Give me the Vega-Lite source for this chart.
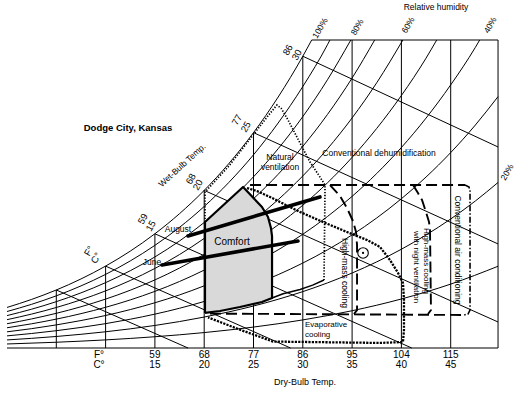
{
  "$schema": "https://vega.github.io/schema/vega-lite/v6.json",
  "width": 520,
  "height": 394,
  "autosize": {"type": "none"},
  "padding": 0,
  "background": "white",
  "config": {"view": {"stroke": null}, "text": {"font": "Liberation Sans", "color": "black"}},
  "encoding": {
    "x": {"field": "x", "type": "quantitative", "scale": {"domain": [-0.71, 52.028], "nice": false, "zero": false}, "axis": null},
    "y": {"field": "y", "type": "quantitative", "scale": {"domain": [-4.279, 32.372], "nice": false, "zero": false}, "axis": null}
  },
  "layer": [
    {
      "data": {"values": [
        {"g": "border", "o": 0, "x": 0, "y": 0}, {"g": "border", "o": 1, "x": 49.8, "y": 0}, {"g": "border", "o": 2, "x": 49.8, "y": 28.65}, {"g": "border", "o": 3, "x": 30.9, "y": 28.65},
        {"g": "v5", "o": 0, "x": 5, "y": 0}, {"g": "v5", "o": 1, "x": 5, "y": 5.397},
        {"g": "v10", "o": 0, "x": 10, "y": 0}, {"g": "v10", "o": 1, "x": 10, "y": 7.618},
        {"g": "v15", "o": 0, "x": 15, "y": 0}, {"g": "v15", "o": 1, "x": 15, "y": 10.627},
        {"g": "v20", "o": 0, "x": 20, "y": 0}, {"g": "v20", "o": 1, "x": 20, "y": 14.662},
        {"g": "v25", "o": 0, "x": 25, "y": 0}, {"g": "v25", "o": 1, "x": 25, "y": 20.034},
        {"g": "v30", "o": 0, "x": 30, "y": 0}, {"g": "v30", "o": 1, "x": 30, "y": 27.141},
        {"g": "v35", "o": 0, "x": 35, "y": 0}, {"g": "v35", "o": 1, "x": 35, "y": 28.65},
        {"g": "v40", "o": 0, "x": 40, "y": 0}, {"g": "v40", "o": 1, "x": 40, "y": 28.65},
        {"g": "v45", "o": 0, "x": 45, "y": 0}, {"g": "v45", "o": 1, "x": 45, "y": 28.65},
        {"g": "w5", "o": 0, "x": 5, "y": 5.397}, {"g": "w5", "o": 1, "x": 18.36, "y": 0},
        {"g": "w10", "o": 0, "x": 10, "y": 7.618}, {"g": "w10", "o": 1, "x": 28.76, "y": 0},
        {"g": "w15", "o": 0, "x": 15, "y": 10.627}, {"g": "w15", "o": 1, "x": 41.05, "y": 0},
        {"g": "w20", "o": 0, "x": 20, "y": 14.662}, {"g": "w20", "o": 1, "x": 49.8, "y": 2.42},
        {"g": "w25", "o": 0, "x": 25, "y": 20.034}, {"g": "w25", "o": 1, "x": 49.8, "y": 9.68},
        {"g": "w30", "o": 0, "x": 30, "y": 27.141}, {"g": "w30", "o": 1, "x": 49.8, "y": 18.7}
      ]},
      "mark": {"type": "line", "color": "#000", "strokeWidth": 1},
      "encoding": {"detail": {"field": "g"}, "order": {"field": "o", "type": "quantitative"}}
    },
    {
      "data": {"values": [
        {"rh": 100, "x": 0, "y": 3.773}, {"rh": 100, "x": 2.5, "y": 4.52}, {"rh": 100, "x": 5, "y": 5.397}, {"rh": 100, "x": 7.5, "y": 6.422}, {"rh": 100, "x": 10, "y": 7.618}, {"rh": 100, "x": 12.5, "y": 9.011}, {"rh": 100, "x": 15, "y": 10.627}, {"rh": 100, "x": 17.5, "y": 12.498}, {"rh": 100, "x": 20, "y": 14.662}, {"rh": 100, "x": 22.5, "y": 17.158}, {"rh": 100, "x": 25, "y": 20.034}, {"rh": 100, "x": 27.5, "y": 23.343}, {"rh": 100, "x": 30, "y": 27.141}, {"rh": 100, "x": 30.9, "y": 28.65},
        {"rh": 90, "x": 0, "y": 3.393}, {"rh": 90, "x": 2.5, "y": 4.065}, {"rh": 90, "x": 5, "y": 4.853}, {"rh": 90, "x": 7.5, "y": 5.774}, {"rh": 90, "x": 10, "y": 6.848}, {"rh": 90, "x": 12.5, "y": 8.098}, {"rh": 90, "x": 15, "y": 9.548}, {"rh": 90, "x": 17.5, "y": 11.226}, {"rh": 90, "x": 20, "y": 13.165}, {"rh": 90, "x": 22.5, "y": 15.4}, {"rh": 90, "x": 25, "y": 17.972}, {"rh": 90, "x": 27.5, "y": 20.93}, {"rh": 90, "x": 30, "y": 24.321}, {"rh": 90, "x": 32.5, "y": 28.209}, {"rh": 90, "x": 32.75, "y": 28.65},
        {"rh": 80, "x": 0, "y": 3.015}, {"rh": 80, "x": 2.5, "y": 3.611}, {"rh": 80, "x": 5, "y": 4.31}, {"rh": 80, "x": 7.5, "y": 5.127}, {"rh": 80, "x": 10, "y": 6.08}, {"rh": 80, "x": 12.5, "y": 7.188}, {"rh": 80, "x": 15, "y": 8.472}, {"rh": 80, "x": 17.5, "y": 9.958}, {"rh": 80, "x": 20, "y": 11.675}, {"rh": 80, "x": 22.5, "y": 13.651}, {"rh": 80, "x": 25, "y": 15.925}, {"rh": 80, "x": 27.5, "y": 18.536}, {"rh": 80, "x": 30, "y": 21.525}, {"rh": 80, "x": 32.5, "y": 24.948}, {"rh": 80, "x": 34.87, "y": 28.65},
        {"rh": 70, "x": 0, "y": 2.636}, {"rh": 70, "x": 2.5, "y": 3.157}, {"rh": 70, "x": 5, "y": 3.768}, {"rh": 70, "x": 7.5, "y": 4.482}, {"rh": 70, "x": 10, "y": 5.313}, {"rh": 70, "x": 12.5, "y": 6.28}, {"rh": 70, "x": 15, "y": 7.401}, {"rh": 70, "x": 17.5, "y": 8.696}, {"rh": 70, "x": 20, "y": 10.192}, {"rh": 70, "x": 22.5, "y": 11.912}, {"rh": 70, "x": 25, "y": 13.889}, {"rh": 70, "x": 27.5, "y": 16.159}, {"rh": 70, "x": 30, "y": 18.754}, {"rh": 70, "x": 32.5, "y": 21.721}, {"rh": 70, "x": 35, "y": 25.113}, {"rh": 70, "x": 37.29, "y": 28.65},
        {"rh": 60, "x": 0, "y": 2.258}, {"rh": 60, "x": 2.5, "y": 2.704}, {"rh": 60, "x": 5, "y": 3.227}, {"rh": 60, "x": 7.5, "y": 3.837}, {"rh": 60, "x": 10, "y": 4.549}, {"rh": 60, "x": 12.5, "y": 5.375}, {"rh": 60, "x": 15, "y": 6.333}, {"rh": 60, "x": 17.5, "y": 7.439}, {"rh": 60, "x": 20, "y": 8.715}, {"rh": 60, "x": 22.5, "y": 10.182}, {"rh": 60, "x": 25, "y": 11.867}, {"rh": 60, "x": 27.5, "y": 13.799}, {"rh": 60, "x": 30, "y": 16.006}, {"rh": 60, "x": 32.5, "y": 18.525}, {"rh": 60, "x": 35, "y": 21.401}, {"rh": 60, "x": 37.5, "y": 24.677}, {"rh": 60, "x": 40.15, "y": 28.65},
        {"rh": 50, "x": 0, "y": 1.881}, {"rh": 50, "x": 2.5, "y": 2.252}, {"rh": 50, "x": 5, "y": 2.687}, {"rh": 50, "x": 7.5, "y": 3.195}, {"rh": 50, "x": 10, "y": 3.786}, {"rh": 50, "x": 12.5, "y": 4.473}, {"rh": 50, "x": 15, "y": 5.268}, {"rh": 50, "x": 17.5, "y": 6.188}, {"rh": 50, "x": 20, "y": 7.246}, {"rh": 50, "x": 22.5, "y": 8.462}, {"rh": 50, "x": 25, "y": 9.858}, {"rh": 50, "x": 27.5, "y": 11.457}, {"rh": 50, "x": 30, "y": 13.281}, {"rh": 50, "x": 32.5, "y": 15.362}, {"rh": 50, "x": 35, "y": 17.733}, {"rh": 50, "x": 37.5, "y": 20.429}, {"rh": 50, "x": 40, "y": 23.49}, {"rh": 50, "x": 42.5, "y": 26.964}, {"rh": 50, "x": 43.58, "y": 28.65},
        {"rh": 40, "x": 0, "y": 1.504}, {"rh": 40, "x": 2.5, "y": 1.8}, {"rh": 40, "x": 5, "y": 2.147}, {"rh": 40, "x": 7.5, "y": 2.553}, {"rh": 40, "x": 10, "y": 3.025}, {"rh": 40, "x": 12.5, "y": 3.573}, {"rh": 40, "x": 15, "y": 4.208}, {"rh": 40, "x": 17.5, "y": 4.94}, {"rh": 40, "x": 20, "y": 5.783}, {"rh": 40, "x": 22.5, "y": 6.751}, {"rh": 40, "x": 25, "y": 7.861}, {"rh": 40, "x": 27.5, "y": 9.132}, {"rh": 40, "x": 30, "y": 10.579}, {"rh": 40, "x": 32.5, "y": 12.229}, {"rh": 40, "x": 35, "y": 14.106}, {"rh": 40, "x": 37.5, "y": 16.236}, {"rh": 40, "x": 40, "y": 18.651}, {"rh": 40, "x": 42.5, "y": 21.386}, {"rh": 40, "x": 45, "y": 24.476}, {"rh": 40, "x": 47.5, "y": 27.966}, {"rh": 40, "x": 47.94, "y": 28.65},
        {"rh": 30, "x": 0, "y": 1.127}, {"rh": 30, "x": 2.5, "y": 1.349}, {"rh": 30, "x": 5, "y": 1.61}, {"rh": 30, "x": 7.5, "y": 1.913}, {"rh": 30, "x": 10, "y": 2.266}, {"rh": 30, "x": 12.5, "y": 2.676}, {"rh": 30, "x": 15, "y": 3.15}, {"rh": 30, "x": 17.5, "y": 3.698}, {"rh": 30, "x": 20, "y": 4.328}, {"rh": 30, "x": 22.5, "y": 5.05}, {"rh": 30, "x": 25, "y": 5.878}, {"rh": 30, "x": 27.5, "y": 6.824}, {"rh": 30, "x": 30, "y": 7.902}, {"rh": 30, "x": 32.5, "y": 9.127}, {"rh": 30, "x": 35, "y": 10.52}, {"rh": 30, "x": 37.5, "y": 12.098}, {"rh": 30, "x": 40, "y": 13.884}, {"rh": 30, "x": 42.5, "y": 15.903}, {"rh": 30, "x": 45, "y": 18.178}, {"rh": 30, "x": 47.5, "y": 20.741}, {"rh": 30, "x": 49.8, "y": 23.385},
        {"rh": 20, "x": 0, "y": 0.751}, {"rh": 20, "x": 2.5, "y": 0.899}, {"rh": 20, "x": 5, "y": 1.072}, {"rh": 20, "x": 7.5, "y": 1.274}, {"rh": 20, "x": 10, "y": 1.509}, {"rh": 20, "x": 12.5, "y": 1.782}, {"rh": 20, "x": 15, "y": 2.097}, {"rh": 20, "x": 17.5, "y": 2.46}, {"rh": 20, "x": 20, "y": 2.878}, {"rh": 20, "x": 22.5, "y": 3.358}, {"rh": 20, "x": 25, "y": 3.906}, {"rh": 20, "x": 27.5, "y": 4.532}, {"rh": 20, "x": 30, "y": 5.245}, {"rh": 20, "x": 32.5, "y": 6.055}, {"rh": 20, "x": 35, "y": 6.974}, {"rh": 20, "x": 37.5, "y": 8.013}, {"rh": 20, "x": 40, "y": 9.188}, {"rh": 20, "x": 42.5, "y": 10.512}, {"rh": 20, "x": 45, "y": 12.002}, {"rh": 20, "x": 47.5, "y": 13.675}, {"rh": 20, "x": 49.8, "y": 15.397},
        {"rh": 10, "x": 0, "y": 0.375}, {"rh": 10, "x": 5, "y": 0.536}, {"rh": 10, "x": 10, "y": 0.754}, {"rh": 10, "x": 15, "y": 1.047}, {"rh": 10, "x": 20, "y": 1.436}, {"rh": 10, "x": 25, "y": 1.947}, {"rh": 10, "x": 30, "y": 2.612}, {"rh": 10, "x": 35, "y": 3.467}, {"rh": 10, "x": 40, "y": 4.56}, {"rh": 10, "x": 45, "y": 5.944}, {"rh": 10, "x": 49.8, "y": 7.604}
      ]},
      "mark": {"type": "line", "color": "#000", "strokeWidth": 1, "interpolate": "monotone"},
      "encoding": {"detail": {"field": "rh"}}
    },
    {
      "data": {"values": [
        {"x": 20.08, "y": 11.72, "y2": 3.26}, {"x": 21.6, "y": 13.0, "y2": 3.44}, {"x": 23.63, "y": 14.72, "y2": 3.81}, {"x": 23.94, "y": 14.98, "y2": 3.88}, {"x": 25.86, "y": 13.12, "y2": 4.28}, {"x": 26.47, "y": 12.19, "y2": 4.5}, {"x": 26.77, "y": 11.16, "y2": 4.61}, {"x": 26.88, "y": 4.65, "y2": 4.65}
      ]},
      "mark": {"type": "area", "color": "#d9d9d9", "opacity": 1},
      "encoding": {"y2": {"field": "y2"}}
    },
    {
      "data": {"values": [
        {"o": 0, "x": 26.88, "y": 4.65}, {"o": 1, "x": 28.0, "y": 5.05}, {"o": 2, "x": 29.72, "y": 5.45}, {"o": 3, "x": 31.0, "y": 5.85}, {"o": 4, "x": 32.15, "y": 6.33}
      ]},
      "mark": {"type": "line", "color": "#000", "strokeWidth": 1.5},
      "encoding": {"order": {"field": "o", "type": "quantitative"}}
    },
    {
      "data": {"values": [
        {"o": 0, "x": 20.08, "y": 11.72}, {"o": 1, "x": 20.08, "y": 14.5}, {"o": 2, "x": 22.52, "y": 16.95}, {"o": 3, "x": 24.95, "y": 19.8}, {"o": 4, "x": 26.47, "y": 21.6}, {"o": 5, "x": 27.38, "y": 22.6}, {"o": 6, "x": 27.8, "y": 22.3},
        {"o": 7, "x": 28.5, "y": 21.21}, {"o": 8, "x": 29.72, "y": 19.07}, {"o": 9, "x": 30.73, "y": 17.3}, {"o": 10, "x": 31.74, "y": 15.91}, {"o": 11, "x": 32.25, "y": 15.16}, {"o": 12, "x": 32.25, "y": 14.42}, {"o": 13, "x": 32.15, "y": 6.33}
      ]},
      "mark": {"type": "line", "color": "#000", "strokeWidth": 1.7, "strokeDash": [1.3, 1.6]},
      "encoding": {"order": {"field": "o", "type": "quantitative"}}
    },
    {
      "data": {"values": [
        {"o": 0, "x": 20.08, "y": 3.26}, {"o": 1, "x": 20.08, "y": 11.72}, {"o": 2, "x": 23.94, "y": 14.98}, {"o": 3, "x": 25.86, "y": 13.12}, {"o": 4, "x": 26.47, "y": 12.19}, {"o": 5, "x": 26.77, "y": 11.16}, {"o": 6, "x": 26.88, "y": 10.4}, {"o": 7, "x": 26.88, "y": 4.65},
        {"o": 8, "x": 25.86, "y": 4.28}, {"o": 9, "x": 23.63, "y": 3.81}, {"o": 10, "x": 21.6, "y": 3.44}, {"o": 11, "x": 20.08, "y": 3.26}
      ]},
      "mark": {"type": "line", "color": "#000", "strokeWidth": 2.2, "strokeJoin": "round"},
      "encoding": {"order": {"field": "o", "type": "quantitative"}}
    },
    {
      "data": {"values": [
        {"o": 0, "x": 24.34, "y": 14.88}, {"o": 1, "x": 25.35, "y": 14.6}, {"o": 2, "x": 26.67, "y": 14.05}, {"o": 3, "x": 27.69, "y": 13.58}, {"o": 4, "x": 29.72, "y": 12.65}, {"o": 5, "x": 32.05, "y": 11.72}, {"o": 6, "x": 34.48, "y": 10.79}, {"o": 7, "x": 36.51, "y": 10.05}, {"o": 8, "x": 37.83, "y": 9.4}, {"o": 9, "x": 38.84, "y": 8.19}, {"o": 10, "x": 39.66, "y": 6.98}, {"o": 11, "x": 40.16, "y": 6.05}, {"o": 12, "x": 40.26, "y": 4.47}, {"o": 13, "x": 40.26, "y": 1.67}, {"o": 14, "x": 40.16, "y": 0.56}, {"o": 15, "x": 37.83, "y": 0.47}, {"o": 16, "x": 26.98, "y": 0.6}, {"o": 17, "x": 23.63, "y": 1.7}, {"o": 18, "x": 20.39, "y": 2.85}
      ]},
      "mark": {"type": "line", "color": "#000", "strokeWidth": 2.3, "strokeDash": [2.2, 1.2]},
      "encoding": {"order": {"field": "o", "type": "quantitative"}}
    },
    {
      "data": {"values": [
        {"g": "dehum", "o": 0, "x": 24.65, "y": 15.16}, {"g": "dehum", "o": 1, "x": 46.45, "y": 15.16},
        {"g": "base", "o": 0, "x": 20.59, "y": 3.2}, {"g": "base", "o": 1, "x": 46.35, "y": 3.07},
        {"g": "hm", "o": 0, "x": 32.76, "y": 15.16}, {"g": "hm", "o": 1, "x": 33.77, "y": 14.14}, {"g": "hm", "o": 2, "x": 34.48, "y": 13.02}, {"g": "hm", "o": 3, "x": 35.09, "y": 11.81}, {"g": "hm", "o": 4, "x": 35.4, "y": 10.79}, {"g": "hm", "o": 5, "x": 35.5, "y": 9.58}, {"g": "hm", "o": 6, "x": 35.5, "y": 3.53}, {"g": "hm", "o": 7, "x": 35.19, "y": 3.16},
        {"g": "hmn", "o": 0, "x": 41.18, "y": 15.16}, {"g": "hmn", "o": 1, "x": 41.68, "y": 14.42}, {"g": "hmn", "o": 2, "x": 42.09, "y": 13.77}, {"g": "hmn", "o": 3, "x": 42.49, "y": 12.65}, {"g": "hmn", "o": 4, "x": 42.8, "y": 11.72}, {"g": "hmn", "o": 5, "x": 42.9, "y": 10.98}, {"g": "hmn", "o": 6, "x": 43.0, "y": 3.53}, {"g": "hmn", "o": 7, "x": 42.7, "y": 3.16}
      ]},
      "mark": {"type": "line", "color": "#000", "strokeWidth": 1.9, "strokeDash": [11, 5]},
      "encoding": {"detail": {"field": "g"}, "order": {"field": "o", "type": "quantitative"}}
    },
    {
      "data": {"values": [
        {"o": 0, "x": 46.45, "y": 15.16}, {"o": 1, "x": 46.86, "y": 14.98}, {"o": 2, "x": 46.96, "y": 14.6}, {"o": 3, "x": 46.96, "y": 3.53}, {"o": 4, "x": 46.75, "y": 3.16}, {"o": 5, "x": 46.35, "y": 3.07}
      ]},
      "mark": {"type": "line", "color": "#000", "strokeWidth": 1.6, "strokeDash": [6, 2, 1.5, 2]},
      "encoding": {"order": {"field": "o", "type": "quantitative"}}
    },
    {
      "data": {"values": [
        {"m": "June", "x": 15.72, "y": 7.72}, {"m": "June", "x": 29.51, "y": 9.95},
        {"m": "August", "x": 18.36, "y": 10.42}, {"m": "August", "x": 31.74, "y": 14.05}
      ]},
      "mark": {"type": "line", "color": "#000", "strokeWidth": 3.6, "strokeCap": "round"},
      "encoding": {"detail": {"field": "m"}}
    },
    {
      "data": {"values": [{"x": 36.11, "y": 8.84}]},
      "mark": {"type": "point", "shape": "circle", "size": 110, "filled": false, "color": "#000", "strokeWidth": 1.1, "opacity": 1}
    },
    {
      "data": {"values": [{"x": 36.11, "y": 8.84}]},
      "mark": {"type": "point", "shape": "circle", "size": 5, "filled": true, "color": "#000", "opacity": 1}
    },
    {
      "data": {"values": [
        {"t": "Relative humidity", "x": 43.51, "y": 31.72, "a": 0, "s": 8.5},
        {"t": "100%", "x": 31.74, "y": 29.77, "a": -60, "s": 8.5},
        {"t": "80%", "x": 35.5, "y": 29.86, "a": -60, "s": 8.5},
        {"t": "60%", "x": 40.67, "y": 30.05, "a": -60, "s": 8.5},
        {"t": "40%", "x": 48.99, "y": 30.05, "a": -60, "s": 8.5},
        {"t": "20%", "x": 50.71, "y": 16.37, "a": -60, "s": 8.5},
        {"t": "86", "x": 28.5, "y": 27.72, "a": -60, "s": 9.5},
        {"t": "30", "x": 29.41, "y": 27.26, "a": -60, "s": 9.5},
        {"t": "77", "x": 23.33, "y": 21.21, "a": -60, "s": 9.5},
        {"t": "25", "x": 24.24, "y": 20.56, "a": -60, "s": 9.5},
        {"t": "68", "x": 18.66, "y": 15.72, "a": -60, "s": 9.5},
        {"t": "20", "x": 19.37, "y": 15.16, "a": -60, "s": 9.5},
        {"t": "59", "x": 13.79, "y": 12.0, "a": -60, "s": 9.5},
        {"t": "15", "x": 14.6, "y": 11.35, "a": -60, "s": 9.5},
        {"t": "F°", "x": 8.32, "y": 9.02, "a": -60, "s": 9.5},
        {"t": "C°", "x": 9.03, "y": 8.37, "a": -60, "s": 9.5},
        {"t": "Wet-Bulb Temp.", "x": 17.75, "y": 17.02, "a": -42, "s": 8.5},
        {"t": "Natural", "x": 27.69, "y": 17.77, "a": 0, "s": 8.5},
        {"t": "ventilation", "x": 27.69, "y": 16.84, "a": 0, "s": 8.5},
        {"t": "Conventional dehumidification", "x": 37.73, "y": 18.14, "a": 0, "s": 8.5},
        {"t": "Comfort", "x": 22.82, "y": 9.86, "a": 0, "s": 10},
        {"t": "August", "x": 17.34, "y": 11.07, "a": 0, "s": 8.5},
        {"t": "June", "x": 14.71, "y": 8.0, "a": 0, "s": 8.5},
        {"t": "High-mass cooling", "x": 34.28, "y": 6.98, "a": 90, "s": 8.5},
        {"t": "Conventional air conditioning", "x": 45.74, "y": 9.12, "a": 90, "s": 8.5},
        {"t": "F°", "x": 9.33, "y": -0.65, "a": 0, "s": 10},
        {"t": "C°", "x": 9.33, "y": -1.58, "a": 0, "s": 10},
        {"t": "59", "x": 15, "y": -0.65, "a": 0, "s": 10},
        {"t": "15", "x": 15, "y": -1.58, "a": 0, "s": 10},
        {"t": "68", "x": 20, "y": -0.65, "a": 0, "s": 10},
        {"t": "20", "x": 20, "y": -1.58, "a": 0, "s": 10},
        {"t": "77", "x": 25, "y": -0.65, "a": 0, "s": 10},
        {"t": "25", "x": 25, "y": -1.58, "a": 0, "s": 10},
        {"t": "86", "x": 30, "y": -0.65, "a": 0, "s": 10},
        {"t": "30", "x": 30, "y": -1.58, "a": 0, "s": 10},
        {"t": "95", "x": 35, "y": -0.65, "a": 0, "s": 10},
        {"t": "35", "x": 35, "y": -1.58, "a": 0, "s": 10},
        {"t": "104", "x": 40, "y": -0.65, "a": 0, "s": 10},
        {"t": "40", "x": 40, "y": -1.58, "a": 0, "s": 10},
        {"t": "115", "x": 45, "y": -0.65, "a": 0, "s": 10},
        {"t": "45", "x": 45, "y": -1.58, "a": 0, "s": 10},
        {"t": "Dry-Bulb Temp.", "x": 30.22, "y": -3.16, "a": 0, "s": 9}
      ]},
      "mark": {"type": "text", "align": "center", "baseline": "middle", "color": "#000"},
      "encoding": {
        "text": {"field": "t"},
        "angle": {"field": "a", "type": "quantitative", "scale": null},
        "size": {"field": "s", "type": "quantitative", "scale": null}
      }
    },
    {
      "data": {"values": [
        {"t": "Evaporative", "x": 30.22, "y": 2.14, "a": 0},
        {"t": "cooling", "x": 30.22, "y": 1.24, "a": 0},
        {"t": "High-mass cooling", "x": 42.49, "y": 11.16, "a": 90},
        {"t": "with night ventilation", "x": 41.48, "y": 10.88, "a": 90}
      ]},
      "mark": {"type": "text", "align": "left", "baseline": "middle", "fontSize": 8, "color": "#000"},
      "encoding": {
        "text": {"field": "t"},
        "angle": {"field": "a", "type": "quantitative", "scale": null}
      }
    },
    {
      "data": {"values": [{"t": "Dodge City, Kansas", "x": 12.27, "y": 20.47}]},
      "mark": {"type": "text", "align": "center", "baseline": "middle", "fontSize": 9.5, "fontWeight": "bold", "color": "#000"},
      "encoding": {"text": {"field": "t"}}
    }
  ]
}
